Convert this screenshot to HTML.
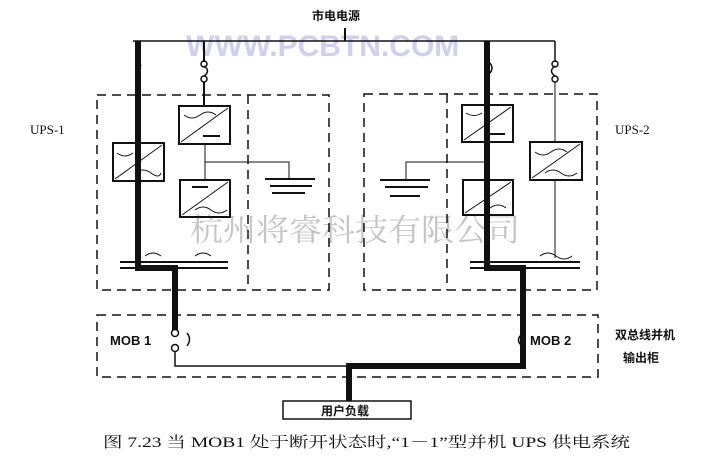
<!DOCTYPE html>
<html><head><meta charset="utf-8"><style>
html,body{margin:0;padding:0;background:#fff;}
svg{display:block;}
</style></head><body>
<svg width="709" height="462" viewBox="0 0 709 462" xmlns="http://www.w3.org/2000/svg" font-family="'Liberation Sans','Noto Sans CJK SC',sans-serif">
<rect width="709" height="462" fill="#fff"/>
<text x="186" y="56" font-size="30" font-weight="bold" fill="#cfcff0">WWW.PCBTN.COM</text>
<text x="190" y="241" font-size="31" fill="#c4c4c4" font-family="'Noto Serif CJK SC',serif" textLength="330" lengthAdjust="spacingAndGlyphs">杭州将睿科技有限公司</text>
<text x="312" y="20" font-size="12" font-weight="bold" fill="#111">市电电源</text>
<g stroke="#111" fill="none">
<line x1="345" y1="28" x2="345" y2="41" stroke-width="2"/>
<line x1="133" y1="41" x2="555" y2="41" stroke-width="1.5"/>
<g stroke-dasharray="9,6" stroke-width="1.5">
<rect x="97" y="95" width="232" height="195"/>
<line x1="248" y1="95" x2="248" y2="290"/>
<rect x="364" y="94" width="233" height="196"/>
<line x1="447" y1="94" x2="447" y2="290"/>
<rect x="97" y="315" width="501" height="62"/>
</g>
<polyline points="138,41 138,268 175,268 175,330" stroke-width="6"/>
<path d="M138 60 q5 5 0 12" stroke-width="1.5"/>
<line x1="204" y1="41" x2="204" y2="62" stroke-width="2"/>
<circle cx="204" cy="64" r="3" stroke-width="1.5"/>
<path d="M204 66 q7 5 0 10" stroke-width="1.5"/>
<circle cx="204" cy="79" r="3" stroke-width="1.5"/>
<line x1="204" y1="82" x2="204" y2="106" stroke-width="2"/>
<rect x="179" y="106" width="51" height="38" stroke-width="2"/>
<line x1="181" y1="142" x2="228" y2="108"/>
<path d="M184 115 q8 6 16 0 t16 0" />
<line x1="203" y1="136" x2="220" y2="136" stroke-width="2"/>
<line x1="205" y1="144" x2="205" y2="180"/>
<polyline points="205,162 289,162 289,179"/>
<g stroke-width="2"><line x1="265" y1="179" x2="315" y2="179"/><line x1="270" y1="186" x2="312" y2="186"/><line x1="272" y1="193" x2="305" y2="193"/></g>
<rect x="180" y="180" width="50" height="37" stroke-width="2"/>
<line x1="182" y1="215" x2="228" y2="182"/>
<line x1="192" y1="187" x2="208" y2="187" stroke-width="2"/>
<path d="M195 210 q8 -6 16 0 t16 0"/>
<rect x="113" y="143" width="51" height="38" stroke-width="2"/>
<line x1="115" y1="179" x2="162" y2="145"/>
<path d="M117 153 q8 6 16 0"/><path d="M135 173 q8 -6 16 0 t10 0"/>
<line x1="120" y1="262" x2="228" y2="262" stroke-width="2"/>
<line x1="120" y1="268" x2="228" y2="268" stroke-width="2"/>
<path d="M145 256 q8 -6 16 0"/><path d="M195 256 q8 -6 16 0"/>
<polyline points="487,41 487,268 523,268 523,366" stroke-width="6"/>
<path d="M489 62 q6 6 0 12" stroke-width="1.5"/>
<line x1="555" y1="41" x2="555" y2="62" stroke-width="1.5"/>
<circle cx="555" cy="64" r="3" stroke-width="1.5"/>
<path d="M555 66 q-7 5 0 10" stroke-width="1.5"/>
<circle cx="555" cy="79" r="3" stroke-width="1.5"/>
<line x1="555" y1="82" x2="555" y2="142"/>
<rect x="462" y="105" width="51" height="37" stroke-width="2"/>
<line x1="464" y1="140" x2="511" y2="107"/>
<path d="M466 113 q8 5 16 0"/><line x1="490" y1="134" x2="505" y2="134" stroke-width="2"/>
<polyline points="487,162 406,162 406,180"/>
<g stroke-width="2"><line x1="380" y1="180" x2="430" y2="180"/><line x1="385" y1="187" x2="428" y2="187"/><line x1="390" y1="196" x2="420" y2="196"/></g>
<rect x="463" y="180" width="50" height="35" stroke-width="2"/>
<line x1="465" y1="213" x2="511" y2="182"/>
<path d="M490 208 q8 -6 16 0"/>
<rect x="530" y="142" width="52" height="38" stroke-width="2"/>
<line x1="532" y1="178" x2="580" y2="144"/>
<path d="M535 152 q8 6 16 0 t16 0"/><path d="M545 173 q8 -6 16 0 t16 0"/>
<line x1="555" y1="180" x2="555" y2="258"/>
<line x1="470" y1="262" x2="580" y2="262" stroke-width="2"/>
<line x1="470" y1="268" x2="580" y2="268" stroke-width="2"/>
<path d="M540 256 q8 -6 16 0 t16 0"/>
<circle cx="175" cy="333" r="3.5" stroke-width="1.5"/>
<circle cx="175" cy="348" r="3.5" stroke-width="1.5"/>
<path d="M187 333 q5 6 0 13" stroke-width="1.5"/>
<path d="M521 335 q-5 5 0 10" stroke-width="1.5"/>
<polyline points="175,352 175,366 349,366" stroke-width="1.5"/>
<line x1="349" y1="366" x2="526" y2="366" stroke-width="6"/>
<line x1="349" y1="363" x2="349" y2="401" stroke-width="6"/>
<rect x="283" y="401" width="128" height="18" stroke-width="1.5"/>
</g>
<text x="30" y="134" font-size="13" font-family="'Liberation Serif',serif" fill="#111">UPS-1</text>
<text x="615" y="134" font-size="13" font-family="'Liberation Serif',serif" fill="#111">UPS-2</text>
<text x="110" y="345" font-size="13" font-weight="bold" fill="#111">MOB 1</text>
<text x="530" y="345" font-size="13" font-weight="bold" fill="#111">MOB 2</text>
<text x="615" y="339" font-size="12" font-weight="bold" fill="#111">双总线并机</text>
<text x="623" y="362" font-size="12" font-weight="bold" fill="#111">输出柜</text>
<text x="321" y="415" font-size="12" font-weight="bold" fill="#111">用户负载</text>
<text x="103" y="447" font-size="15" font-family="'Liberation Serif','Noto Serif CJK SC',serif" fill="#111" textLength="527" lengthAdjust="spacingAndGlyphs">图 7.23   当 MOB1 处于断开状态时,“1－1”型并机 UPS 供电系统</text>
</svg>
</body></html>
